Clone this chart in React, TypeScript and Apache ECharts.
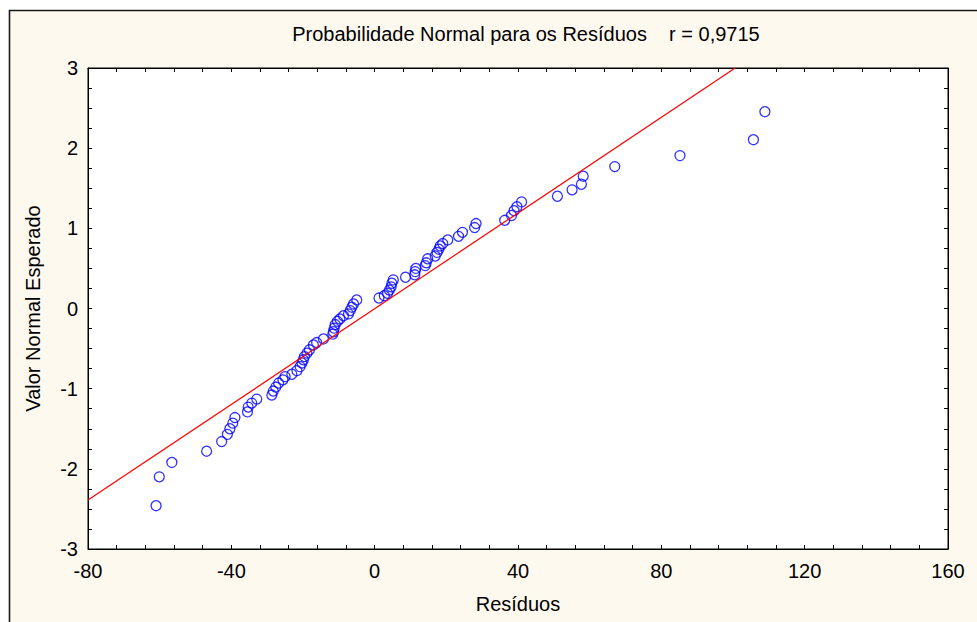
import React, { useEffect, useRef } from "react";
import * as echarts from "echarts";

const residuals = [
  -61.0, -60.1, -56.6, -46.9, -42.7, -41.1, -40.4, -39.6, -39.0, -35.5,
  -35.3, -34.3, -32.9, -28.7, -28.3, -27.6, -26.8, -25.6, -25.0, -23.1,
  -21.7, -20.8, -20.3, -19.9, -19.6, -18.9, -18.2, -17.1, -16.2, -14.3,
  -11.7, -11.5, -11.3, -11.0, -10.4, -9.7, -8.7, -7.3, -6.8, -6.4,
  -5.9, -5.0,
  1.2, 2.7, 3.6, 4.1, 4.6, 4.8, 5.2, 8.6, 11.2, 11.3,
  11.5, 14.1, 14.4, 14.8, 16.9, 17.4, 17.9, 18.3, 19.0, 20.4,
  23.4, 24.5, 27.9, 28.3, 36.3, 38.2, 38.9, 39.7, 41.0, 51.0,
  55.1, 57.7, 58.2, 67.0, 85.2, 105.7, 108.9,
];

const expectedNormal = [
  -2.46, -2.1, -1.92, -1.78, -1.66, -1.57, -1.5, -1.43, -1.36, -1.29,
  -1.23, -1.18, -1.13, -1.08, -1.03, -0.98, -0.93, -0.89, -0.85, -0.82,
  -0.775, -0.725, -0.68, -0.64, -0.6, -0.557, -0.515, -0.455, -0.425, -0.38,
  -0.32, -0.29, -0.245, -0.2, -0.16, -0.13, -0.09, -0.067, -0.026, 0.016,
  0.057, 0.107,
  0.13, 0.16, 0.19, 0.23, 0.27, 0.315, 0.357, 0.39, 0.42, 0.46,
  0.5, 0.535, 0.57, 0.62, 0.655, 0.7, 0.74, 0.78, 0.81, 0.855,
  0.9, 0.95, 1.01, 1.06, 1.1, 1.16, 1.22, 1.27, 1.33, 1.4,
  1.48, 1.55, 1.65, 1.77, 1.907, 2.106, 2.455,
];

const fitLineX = [-80, 100.6];
const fitLineY = [-2.39, 3.0];

const xTicks = { min: -80, max: 160, interval: 40 };
const yTicks = { min: -3, max: 3, interval: 1 };

const chartTitle = "Probabilidade Normal para os Resíduos    r = 0,9715";
const xName = "Resíduos";
const yName = "Valor Normal Esperado";

const FONT = "'Liberation Sans', Arial, Helvetica, sans-serif";
const FS = 20;

export default function App() {
  const ref = useRef<HTMLDivElement>(null);

  useEffect(() => {
    if (!ref.current) return;
    const chart = echarts.init(ref.current, null, { renderer: "svg" });

    const tickStyle = { show: true, inside: true, length: 4, lineStyle: { color: "#000", width: 1 } };
    const axisLine = { show: true, onZero: false, lineStyle: { color: "#000", width: 1 } };

    const option: any = {
      animation: false,
      backgroundColor: "#ffffff",
      graphic: [
        {
          type: "rect",
          z: -10,
          silent: true,
          shape: { x: 9.5, y: 10.5, width: 1100, height: 800 },
          style: { fill: "#FEF9EF", stroke: "#1a1a1a", lineWidth: 1.6 },
        },
        {
          type: "text",
          x: 526,
          y: 34,
          style: {
            text: chartTitle,
            fill: "#000",
            font: `${FS}px ${FONT}`,
            textAlign: "center",
            textVerticalAlign: "middle",
          },
        },
      ],
      grid: {
        left: 88,
        top: 68,
        width: 860,
        height: 481,
        show: true,
        backgroundColor: "#ffffff",
        borderColor: "#000",
        borderWidth: 1,
      },
      xAxis: [
        {
          type: "value",
          min: xTicks.min,
          max: xTicks.max,
          interval: xTicks.interval,
          name: xName,
          nameLocation: "middle",
          nameGap: 45,
          nameTextStyle: { color: "#000", fontSize: FS, fontFamily: FONT },
          axisLine,
          axisTick: tickStyle,
          minorTick: { show: true, splitNumber: 5, length: 4, lineStyle: { color: "#000", width: 1 } },
          splitLine: { show: false },
          axisLabel: { color: "#000", fontSize: FS, fontFamily: FONT, margin: 12 },
        },
        {
          type: "value",
          position: "top",
          min: xTicks.min,
          max: xTicks.max,
          interval: xTicks.interval,
          axisLine,
          axisTick: tickStyle,
          minorTick: { show: true, splitNumber: 5, length: 4, lineStyle: { color: "#000", width: 1 } },
          splitLine: { show: false },
          axisLabel: { show: false },
        },
      ],
      yAxis: [
        {
          type: "value",
          min: yTicks.min,
          max: yTicks.max,
          interval: yTicks.interval,
          name: yName,
          nameLocation: "middle",
          nameGap: 45,
          nameTextStyle: { color: "#000", fontSize: FS, fontFamily: FONT },
          axisLine,
          axisTick: tickStyle,
          minorTick: { show: true, splitNumber: 4, length: 4, lineStyle: { color: "#000", width: 1 } },
          splitLine: { show: false },
          axisLabel: { color: "#000", fontSize: FS, fontFamily: FONT, margin: 10 },
        },
        {
          type: "value",
          position: "right",
          min: yTicks.min,
          max: yTicks.max,
          interval: yTicks.interval,
          axisLine,
          axisTick: tickStyle,
          minorTick: { show: true, splitNumber: 4, length: 4, lineStyle: { color: "#000", width: 1 } },
          splitLine: { show: false },
          axisLabel: { show: false },
        },
      ],
      series: [
        {
          type: "line",
          xAxisIndex: 0,
          yAxisIndex: 0,
          data: fitLineX.map((x, i) => [x, fitLineY[i]]),
          showSymbol: false,
          symbol: "none",
          lineStyle: { color: "#ff0000", width: 1.2 },
          silent: true,
        },
        {
          type: "scatter",
          xAxisIndex: 0,
          yAxisIndex: 0,
          data: residuals.map((x, i) => [x, expectedNormal[i]]),
          symbol: "circle",
          symbolSize: 10,
          itemStyle: { color: "rgba(0,0,0,0)", borderColor: "#0000ff", borderWidth: 1.3 },
        },
      ],
    };

    chart.setOption(option);
    return () => chart.dispose();
  }, []);

  return (
    <div
      ref={ref}
      style={{ position: "fixed", left: 0, top: 0, width: 977, height: 622 }}
    />
  );
}
